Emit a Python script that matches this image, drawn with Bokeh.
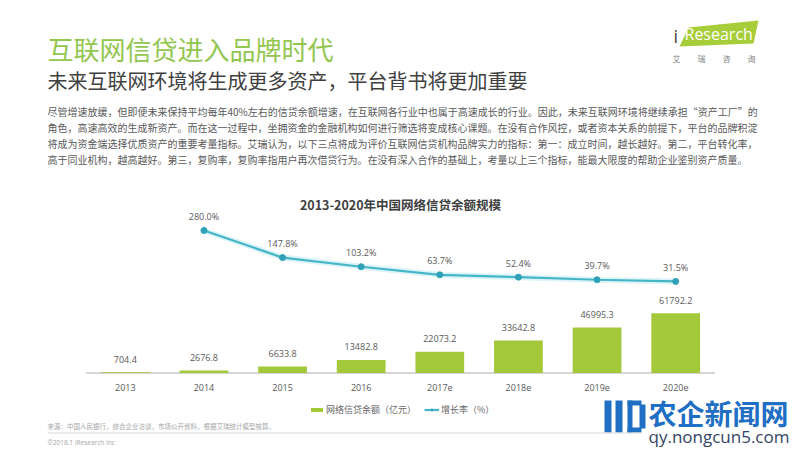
from bokeh.plotting import figure
from bokeh.models import (ColumnDataSource, Range1d, FactorRange, LabelSet, Label,
                          Legend, LegendItem, BoxAnnotation)
from bokeh.core.properties import value
from bokeh.embed import file_html
from bokeh.resources import INLINE

# ---------------- data ----------------
years = ["2013", "2014", "2015", "2016", "2017e", "2018e", "2019e", "2020e"]
balance = [704.4, 2676.8, 6633.8, 13482.8, 22073.2, 33642.8, 46995.3, 61792.2]
rate_years = ["2014", "2015", "2016", "2017e", "2018e", "2019e", "2020e"]
growth = [280.0, 147.8, 103.2, 63.7, 52.4, 39.7, 31.5]

title_text = "互联网信贷进入品牌时代"
subtitle_text = "未来互联网环境将生成更多资产，平台背书将更加重要"
chart_title = "2013-2020年中国网络信贷余额规模"
para_lines = [
    "尽管增速放缓，但即便未来保持平均每年40%左右的信贷余额增速，在互联网各行业中也属于高速成长的行业。因此，未来互联网环境将继续承担“资产工厂”的",
    "角色，高速高效的生成新资产。而在这一过程中，坐拥资金的金融机构如何进行筛选将变成核心课题。在没有合作风控，或者资本关系的前提下，平台的品牌积淀",
    "将成为资金端选择优质资产的重要考量指标。艾瑞认为，以下三点将成为评价互联网信贷机构品牌实力的指标：第一：成立时间，越长越好。第二，平台转化率，",
    "高于同业机构，越高越好。第三，复购率，复购率指用户再次借贷行为。在没有深入合作的基础上，考量以上三个指标，能最大限度的帮助企业鉴别资产质量。",
]
legend_labels = ["网络信贷余额（亿元）", "增长率（%）"]
source_text = "来源：中国人民银行，综合企业访谈，市场公开资料，根据艾瑞统计模型核算。"
copyright_text = "©2018.1 iResearch Inc"

CJK = "Noto Sans CJK SC"
NUM = "Open Sans"
GREEN = "#a3c83a"
TEAL = "#45b5c8"
GREY = "#595959"

bar_src = ColumnDataSource(dict(year=years, bal=balance, zero=[0] * len(years),
                                txt=[f"{v:.1f}" for v in balance]))
line_src = ColumnDataSource(dict(year=rate_years, g=growth, txt=[f"{v:.1f}%" for v in growth]))

W, H = 800, 450
PAD = 1.0875
Y0, Y1 = -80082, 384909
p = figure(width=W, height=H,
           x_range=FactorRange(factors=years, range_padding=PAD, range_padding_units="absolute"),
           y_range=Range1d(Y0, Y1),
           output_backend="svg", toolbar_location=None,
           x_axis_location=None, y_axis_location=None,
           min_border=0, min_border_left=0, min_border_right=0,
           min_border_top=0, min_border_bottom=0)
p.extra_y_ranges = {"rate": Range1d(-793.2, 1401.9)}
p.outline_line_color = None
p.xgrid.visible = False
p.ygrid.visible = False
p.background_fill_color = "white"
p.border_fill_color = "white"

UNIT = W / (len(years) + 2 * PAD)


def page_x(X):
    # decorative shapes: page pixel x as an offset from the first factor
    return (years[0], X / UNIT - PAD - 0.5)


def page_y(Y):
    # decorative shapes: page pixel y in the main value range
    return Y0 + (H - Y) * (Y1 - Y0) / H


def deco(polys, color):
    p.patches([[page_x(x) for x, _ in poly] for poly in polys],
              [[page_y(y) for _, y in poly] for poly in polys],
              fill_color=color, line_color=None)


def rect(l, r, t, b):
    return [(l, t), (r, t), (r, b), (l, b)]


# decorative logo shapes (drawn first, under texts)
deco([[(688, 27), (758, 20), (753, 43), (679, 46)]], "#a8cd3a")
WM = "#1f6fc5"
deco([rect(604, 611, 400, 432), rect(615, 622, 400, 432),
      rect(627, 641, 400, 405), rect(627, 641, 427, 432),
      rect(627, 632, 400, 432), rect(639, 645, 404, 428)], WM)

# baseline (category axis line) and category labels
p.line(x=[(years[0], -0.5), (years[-1], 0.5)], y=[0, 0], line_color="#c8c8c8", line_width=1.5)
p.add_layout(LabelSet(x="year", y="zero", text="year", source=bar_src, y_offset=-15,
                      text_align="center", text_baseline="middle",
                      text_font_size="9px", text_color=GREY, text_font=value(NUM)))

bars = p.vbar(x="year", top="bal", width=0.62, source=bar_src,
              fill_color=GREEN, line_color=None)
p.add_layout(LabelSet(x="year", y="bal", text="txt", source=bar_src, y_offset=13,
                      text_align="center", text_baseline="middle",
                      text_font_size="9px", text_color=GREY, text_font=value(NUM)))

p.line(x="year", y="g", source=line_src, y_range_name="rate",
       line_width=6, line_color="#9ee0ec", line_alpha=0.35)
ln = p.line(x="year", y="g", source=line_src, y_range_name="rate",
            line_width=2.2, line_color=TEAL)
pts = p.scatter(x="year", y="g", source=line_src, y_range_name="rate",
                size=6, fill_color="#2fa2b8", line_color="#2fa2b8")
p.add_layout(LabelSet(x="year", y="g", text="txt", source=line_src, y_range_name="rate",
                      y_offset=14, text_align="center", text_baseline="middle",
                      text_font_size="9px", text_color=GREY, text_font=value(NUM)))

legend = Legend(items=[LegendItem(label=legend_labels[0], renderers=[bars]),
                       LegendItem(label=legend_labels[1], renderers=[ln, pts])],
                location=(309, 34), orientation="horizontal",
                border_line_color=None, background_fill_alpha=0,
                padding=0, margin=0, spacing=8, label_standoff=2,
                glyph_width=15, glyph_height=5, label_height=12,
                label_text_font=CJK, label_text_font_size="9px", label_text_color="#666666")
p.add_layout(legend, "center")


def lab(x, y, text, size, color, font=CJK, style="normal", align="left"):
    p.add_layout(Label(x=x, y=y, x_units="canvas", y_units="canvas", text=text,
                       text_font=font, text_font_size=size, text_color=color,
                       text_font_style=style, text_align=align, text_baseline="middle"))


# header
lab(47, 48, title_text, "26px", "#93c64f")
lab(47, 80, subtitle_text, "20px", "#404040")
for i, t in enumerate(para_lines):
    lab(47, 111 + 16 * i, t, "10px", GREY)

# chart title
lab(400, 204, chart_title, "12.5px", "#404040", style="bold", align="center")

# iResearch logo texts
lab(673, 35, "i", "18px", "#444444", font=NUM)
lab(684, 33, "Research", "16px", "white", font=NUM)
for i, ch in enumerate("艾瑞咨询"):
    lab(676 + 25 * i, 58, ch, "8px", "#808080", align="center")

# footer
lab(47, 425, source_text, "6.5px", "#a6a6a6")
p.add_layout(BoxAnnotation(left=47, right=640, top=432, bottom=433,
                           left_units="canvas", right_units="canvas",
                           top_units="canvas", bottom_units="canvas",
                           fill_color="#d9d9d9", fill_alpha=1, line_color=None))
lab(47, 442, copyright_text, "6.5px", "#a6a6a6", font=NUM)

# watermark texts
lab(648, 412, "农企新闻网", "28px", WM, style="bold")
lab(648, 436, "qy.nongcun5.com", "17px", "#334466", font=NUM)

open("out.html", "w").write(file_html(p, INLINE))
